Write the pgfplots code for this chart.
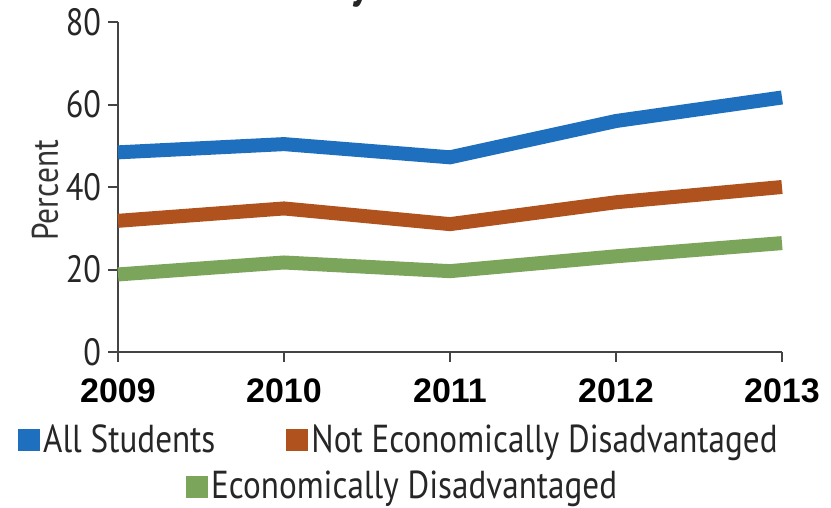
\documentclass[border=0pt]{standalone}
\usepackage{pgfplots}
\pgfplotsset{compat=1.18}
\usepackage{fontspec}
\setmainfont{PT Sans}[FakeStretch=0.85]
\newfontfamily\xfont{Liberation Sans}
\definecolor{cA}{HTML}{1F6FBF}
\definecolor{cB}{HTML}{B0521E}
\definecolor{cC}{HTML}{7BA55A}
\definecolor{axc}{HTML}{444444}
\begin{document}
\begin{tikzpicture}
\path[use as bounding box] (-59pt,-78pt) rectangle (356.5pt,176pt);
\clip (-59pt,-78pt) rectangle (356.5pt,176pt);
\node[anchor=base, font=\fontsize{24}{28}\selectfont\bfseries, text=black!85] at (150pt,177pt) {by Income};
\begin{axis}[
  at={(0pt,0pt)}, anchor=south west,
  scale only axis, width=332pt, height=165pt,
  xmin=2009, xmax=2013, ymin=0, ymax=80,
  axis lines*=left,
  axis line style={axc, line width=1pt},
  tick style={axc, line width=1pt},
  tick align=outside, major tick length=5pt,
  xtick={2009,2010,2011,2012,2013},
  ytick={0,20,40,60,80},
  /pgf/number format/assume math mode=true,
  xticklabel style={font=\xfont\bfseries\fontsize{17}{20}\selectfont, /pgf/number format/1000 sep={}, yshift=-5pt},
  yticklabel style={font=\fontsize{19}{22}\selectfont, text=black!85},
  ylabel={Percent},
  ylabel style={at={(axis description cs:-0.11,0.49)}, anchor=center, font=\fontsize{18.5}{21}\selectfont, text=black!80},
  legend style={at={(axis description cs:-0.16,-0.267)}, anchor=west, draw=none, fill=none,
    font=\fontsize{19.5}{22}\selectfont, text=black!85, nodes={inner sep=1.5pt}, /tikz/every even column/.append style={column sep=34pt}},
  legend columns=2,
  legend image code/.code={\fill[#1] (0pt,-5.5pt) rectangle (11pt,5.5pt);},
  clip=false,
]
\addplot[cA, line width=7pt, forget plot] coordinates {(2009,48.4) (2010,50.4) (2011,47.2) (2012,56) (2013,61.7)};
\addplot[cB, line width=7pt, forget plot] coordinates {(2009,31.8) (2010,34.8) (2011,31) (2012,36.3) (2013,40)};
\addplot[cC, line width=7pt, forget plot] coordinates {(2009,18.8) (2010,21.7) (2011,19.6) (2012,23.2) (2013,26.4)};
\addlegendimage{fill=cA, draw=none}
\addlegendentry{All Students}
\addlegendimage{fill=cB, draw=none}
\addlegendentry{Not Economically Disadvantaged}
\end{axis}
\begin{axis}[
  at={(0pt,0pt)}, anchor=south west,
  scale only axis, width=332pt, height=165pt,
  xmin=2009, xmax=2013, ymin=0, ymax=80,
  hide axis,
  legend style={at={(axis description cs:0.093,-0.408)}, anchor=west, draw=none, fill=none,
    font=\fontsize{19.5}{22}\selectfont, text=black!85, nodes={inner sep=1.5pt}},
  legend image code/.code={\fill[#1] (0pt,-5.5pt) rectangle (11pt,5.5pt);},
]
\addlegendimage{fill=cC, draw=none}
\addlegendentry{Economically Disadvantaged}
\end{axis}
\end{tikzpicture}
\end{document}
